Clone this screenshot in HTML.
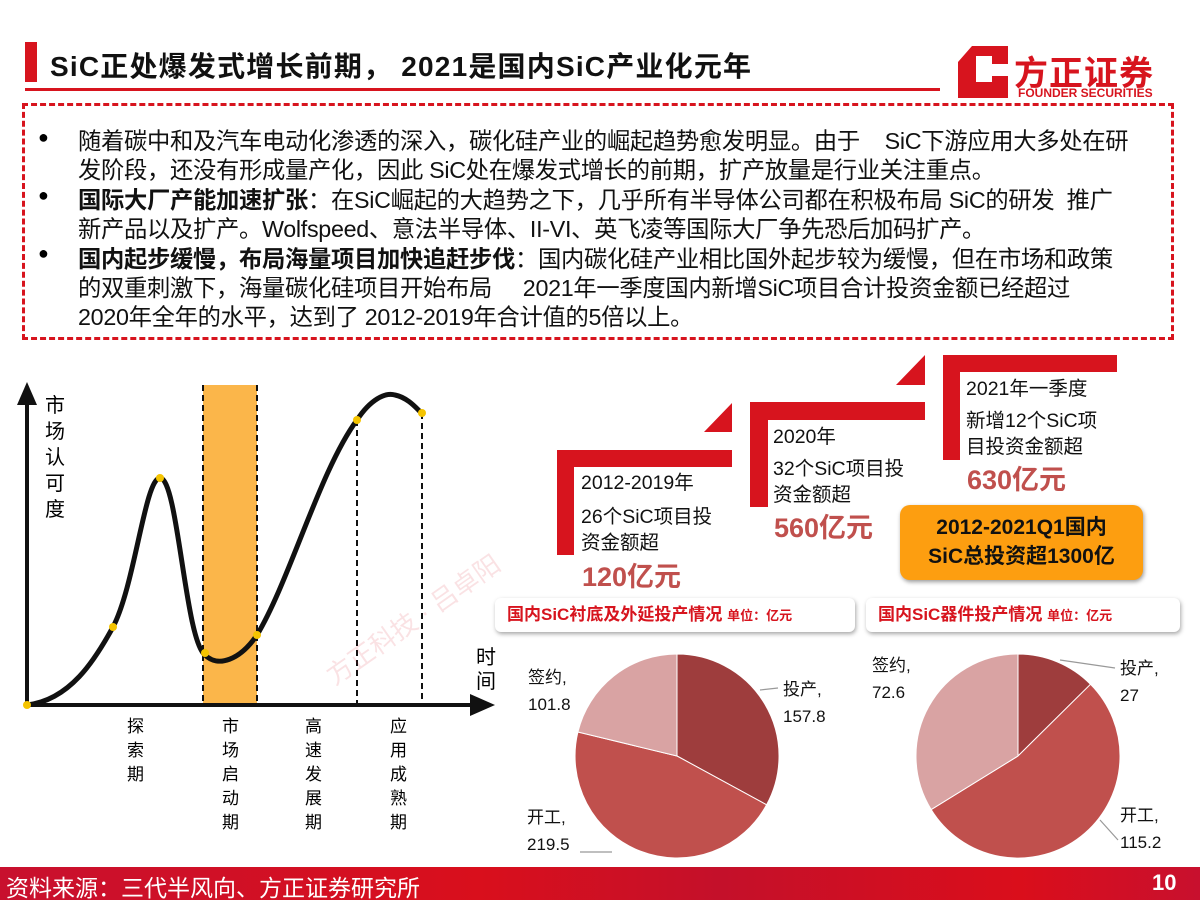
<!DOCTYPE html>
<html><head><meta charset="utf-8"><style>
body{margin:0;width:1200px;height:900px;background:#fff;position:relative;overflow:hidden;font-family:"Liberation Sans","Noto Sans CJK SC",sans-serif;}
.a{position:absolute;white-space:nowrap}
.body{position:absolute;left:22px;top:103px;width:1146px;height:231px;border:3px dashed #d7141e;}
.ln{position:absolute;left:78px;font-size:23.3px;color:#111;letter-spacing:-0.3px}
.bl{position:absolute;left:38px;font-size:18px}
.st{font-size:19.5px;color:#111;line-height:26px}
.big{font-size:27px;font-weight:bold;color:#c0504d}
.ban{position:absolute;height:34px;border-radius:6px;background:#fff;box-shadow:1px 2px 4px rgba(0,0,0,.35);color:#d7141e;font-weight:bold;font-size:17px;line-height:34px;padding-left:12px;box-sizing:border-box}
.ban small{font-size:13px;color:#d7141e}
.pl{font-size:17px;color:#111;line-height:27px}
</style></head><body>
<div class="a" style="left:25px;top:42px;width:12px;height:40px;background:#d7141e"></div>
<div class="a" style="left:50px;top:45px;font-size:28px;font-weight:bold;color:#111;letter-spacing:1.2px">SiC正处爆发式增长前期， 2021是国内SiC产业化元年</div>
<div class="a" style="left:25px;top:88px;width:915px;height:3px;background:#d7141e"></div>
<svg class="a" style="left:958px;top:46px" width="52" height="54"><path d="M14 0H50V18L34 18V10H18L18 36H34V30H50V52H0V16Z" fill="#d7141e"/></svg>
<div class="a" style="left:1014px;top:46px;font-size:34px;font-weight:bold;color:#d7141e;letter-spacing:1px">方正证券</div>
<div class="a" style="left:1018px;top:86px;font-size:12px;font-weight:bold;color:#d7141e">FOUNDER SECURITIES</div>

<div class="body"></div>
<div class="bl a" style="top:127px">●</div>
<div class="bl a" style="top:185px">●</div>
<div class="bl a" style="top:243px">●</div>
<div class="ln a" style="top:122px">随着碳中和及汽车电动化渗透的深入，碳化硅产业的崛起趋势愈发明显。由于&nbsp;&nbsp;&nbsp;&nbsp;SiC下游应用大多处在研</div>
<div class="ln a" style="top:151px">发阶段，还没有形成量产化，因此 SiC处在爆发式增长的前期，扩产放量是行业关注重点。</div>
<div class="ln a" style="top:181px"><b>国际大厂产能加速扩张</b>：在SiC崛起的大趋势之下，几乎所有半导体公司都在积极布局 SiC的研发&nbsp;&nbsp;推广</div>
<div class="ln a" style="top:210px">新产品以及扩产。Wolfspeed、意法半导体、II-VI、英飞凌等国际大厂争先恐后加码扩产。</div>
<div class="ln a" style="top:240px"><b>国内起步缓慢，布局海量项目加快追赶步伐</b>：国内碳化硅产业相比国外起步较为缓慢，但在市场和政策</div>
<div class="ln a" style="top:269px">的双重刺激下，海量碳化硅项目开始布局&nbsp;&nbsp;&nbsp;&nbsp;&nbsp;2021年一季度国内新增SiC项目合计投资金额已经超过</div>
<div class="ln a" style="top:298px">2020年全年的水平，达到了 2012-2019年合计值的5倍以上。</div>

<!-- left chart -->
<svg class="a" style="left:0;top:370px" width="520" height="350">
<rect x="203" y="15" width="54" height="320" fill="#fbb64a"/>
<line x1="203" y1="15" x2="203" y2="335" stroke="#111" stroke-width="2" stroke-dasharray="6,4"/>
<line x1="257" y1="15" x2="257" y2="335" stroke="#111" stroke-width="2" stroke-dasharray="6,4"/>
<line x1="357" y1="50" x2="357" y2="335" stroke="#111" stroke-width="2" stroke-dasharray="6,4"/>
<line x1="422" y1="43" x2="422" y2="335" stroke="#111" stroke-width="2" stroke-dasharray="6,4"/>
<line x1="27" y1="335" x2="27" y2="30" stroke="#111" stroke-width="4"/>
<path d="M17 35L27 12L37 35Z" fill="#111"/>
<line x1="27" y1="335" x2="475" y2="335" stroke="#111" stroke-width="4"/>
<path d="M470 324L495 335L470 346Z" fill="#111"/>
<path d="M27,335 C70,330 95,290 113,257 C135,215 145,108 160,108 C178,108 185,270 205,285 C218,298 240,290 257,265 C290,210 320,100 357,50 C370,30 385,22 395,25 C410,28 420,43 422,43" fill="none" stroke="#111" stroke-width="5"/>
<g fill="#f5c400"><circle cx="27" cy="335" r="4"/><circle cx="113" cy="257" r="4"/><circle cx="160" cy="108" r="4"/><circle cx="205" cy="283" r="4"/><circle cx="257" cy="265" r="4"/><circle cx="357" cy="50" r="4"/><circle cx="422" cy="43" r="4"/></g>
</svg>
<div class="a" style="left:45px;top:393px;font-size:20px;line-height:26px;white-space:normal;width:22px">市场认可度</div>
<div class="a" style="left:476px;top:646px;font-size:20px;line-height:24px;white-space:normal;width:22px">时间</div>
<div class="a" style="left:127px;top:715px;font-size:17px;line-height:24px;white-space:normal;width:18px">探索期</div>
<div class="a" style="left:222px;top:715px;font-size:17px;line-height:24px;white-space:normal;width:18px">市场启动期</div>
<div class="a" style="left:305px;top:715px;font-size:17px;line-height:24px;white-space:normal;width:18px">高速发展期</div>
<div class="a" style="left:390px;top:715px;font-size:17px;line-height:24px;white-space:normal;width:18px">应用成熟期</div>
<div class="a" style="left:310px;top:600px;font-size:26px;color:rgba(215,20,30,.12);transform:rotate(-35deg)">方正科技 · 吕卓阳</div>

<!-- staircase -->
<svg class="a" style="left:0;top:0" width="1200" height="600">
<g fill="#d7141e">
<rect x="557" y="450" width="17" height="105"/><rect x="557" y="450" width="175" height="17"/><path d="M704 432H732V403Z"/>
<rect x="750" y="402" width="18" height="105"/><rect x="750" y="402" width="175" height="18"/><path d="M896 385H925V355Z"/>
<rect x="943" y="355" width="17" height="105"/><rect x="943" y="355" width="174" height="17"/>
</g></svg>
<div class="a st" style="left:581px;top:470px">2012-2019年</div>
<div class="a st" style="left:581px;top:504px">26个SiC项目投<br>资金额超</div>
<div class="a big" style="left:582px;top:555px">120亿元</div>
<div class="a st" style="left:773px;top:424px">2020年</div>
<div class="a st" style="left:773px;top:456px">32个SiC项目投<br>资金额超</div>
<div class="a big" style="left:774px;top:506px">560亿元</div>
<div class="a st" style="left:966px;top:376px">2021年一季度</div>
<div class="a st" style="left:966px;top:408px">新增12个SiC项<br>目投资金额超</div>
<div class="a big" style="left:967px;top:458px">630亿元</div>
<div class="a" style="left:900px;top:505px;width:243px;height:75px;background:#fd9e10;border-radius:10px;box-shadow:1px 2px 4px rgba(0,0,0,.4);text-align:center;font-weight:bold;font-size:21px;line-height:29px;padding-top:8px;box-sizing:border-box;color:#111">2012-2021Q1国内<br>SiC总投资超1300亿</div>

<div class="ban a" style="left:495px;top:598px;width:360px">国内SiC衬底及外延投产情况 <small>单位：亿元</small></div>
<div class="ban a" style="left:866px;top:598px;width:314px">国内SiC器件投产情况 <small>单位：亿元</small></div>

<svg class="a" style="left:0;top:0" width="1200" height="900">
<path d="M677 756L677 654A102 102 0 0 1 766.6 804.8Z" fill="#9e3d3d" stroke="#fff"/>
<path d="M677 756L766.6 804.8A102 102 0 0 1 577.9 732Z" fill="#c0504d" stroke="#fff"/>
<path d="M677 756L577.9 732A102 102 0 0 1 677 654Z" fill="#d9a3a3" stroke="#fff"/>
<path d="M1018 756L1018 654A102 102 0 0 1 1090.5 684.3Z" fill="#9e3d3d" stroke="#fff"/>
<path d="M1018 756L1090.5 684.3A102 102 0 1 1 931.2 809.6Z" fill="#c0504d" stroke="#fff"/>
<path d="M1018 756L931.2 809.6A102 102 0 0 1 1018 654Z" fill="#d9a3a3" stroke="#fff"/>
<g stroke="#999" stroke-width="1.2" fill="none">
<path d="M580 852H612"/><path d="M1060 660L1115 668"/><path d="M1100 820L1118 840"/><path d="M760 690L778 688"/>
</g>
</svg>
<div class="a pl" style="left:528px;top:664px">签约,<br>101.8</div>
<div class="a pl" style="left:783px;top:676px">投产,<br>157.8</div>
<div class="a pl" style="left:527px;top:804px">开工,<br>219.5</div>
<div class="a pl" style="left:872px;top:652px">签约,<br>72.6</div>
<div class="a pl" style="left:1120px;top:655px">投产,<br>27</div>
<div class="a pl" style="left:1120px;top:802px">开工,<br>115.2</div>

<div class="a" style="left:0;top:867px;width:1200px;height:33px;background:linear-gradient(90deg,#c8102e,#d90f1c 40%,#c4102a 60%,#da0e1b 85%,#c8102e)"></div>
<div class="a" style="left:6px;top:869px;font-size:23px;color:#fff">资料来源：三代半风向、方正证券研究所</div>
<div class="a" style="left:1152px;top:870px;font-size:22px;font-weight:bold;color:#fff">10</div>
</body></html>
